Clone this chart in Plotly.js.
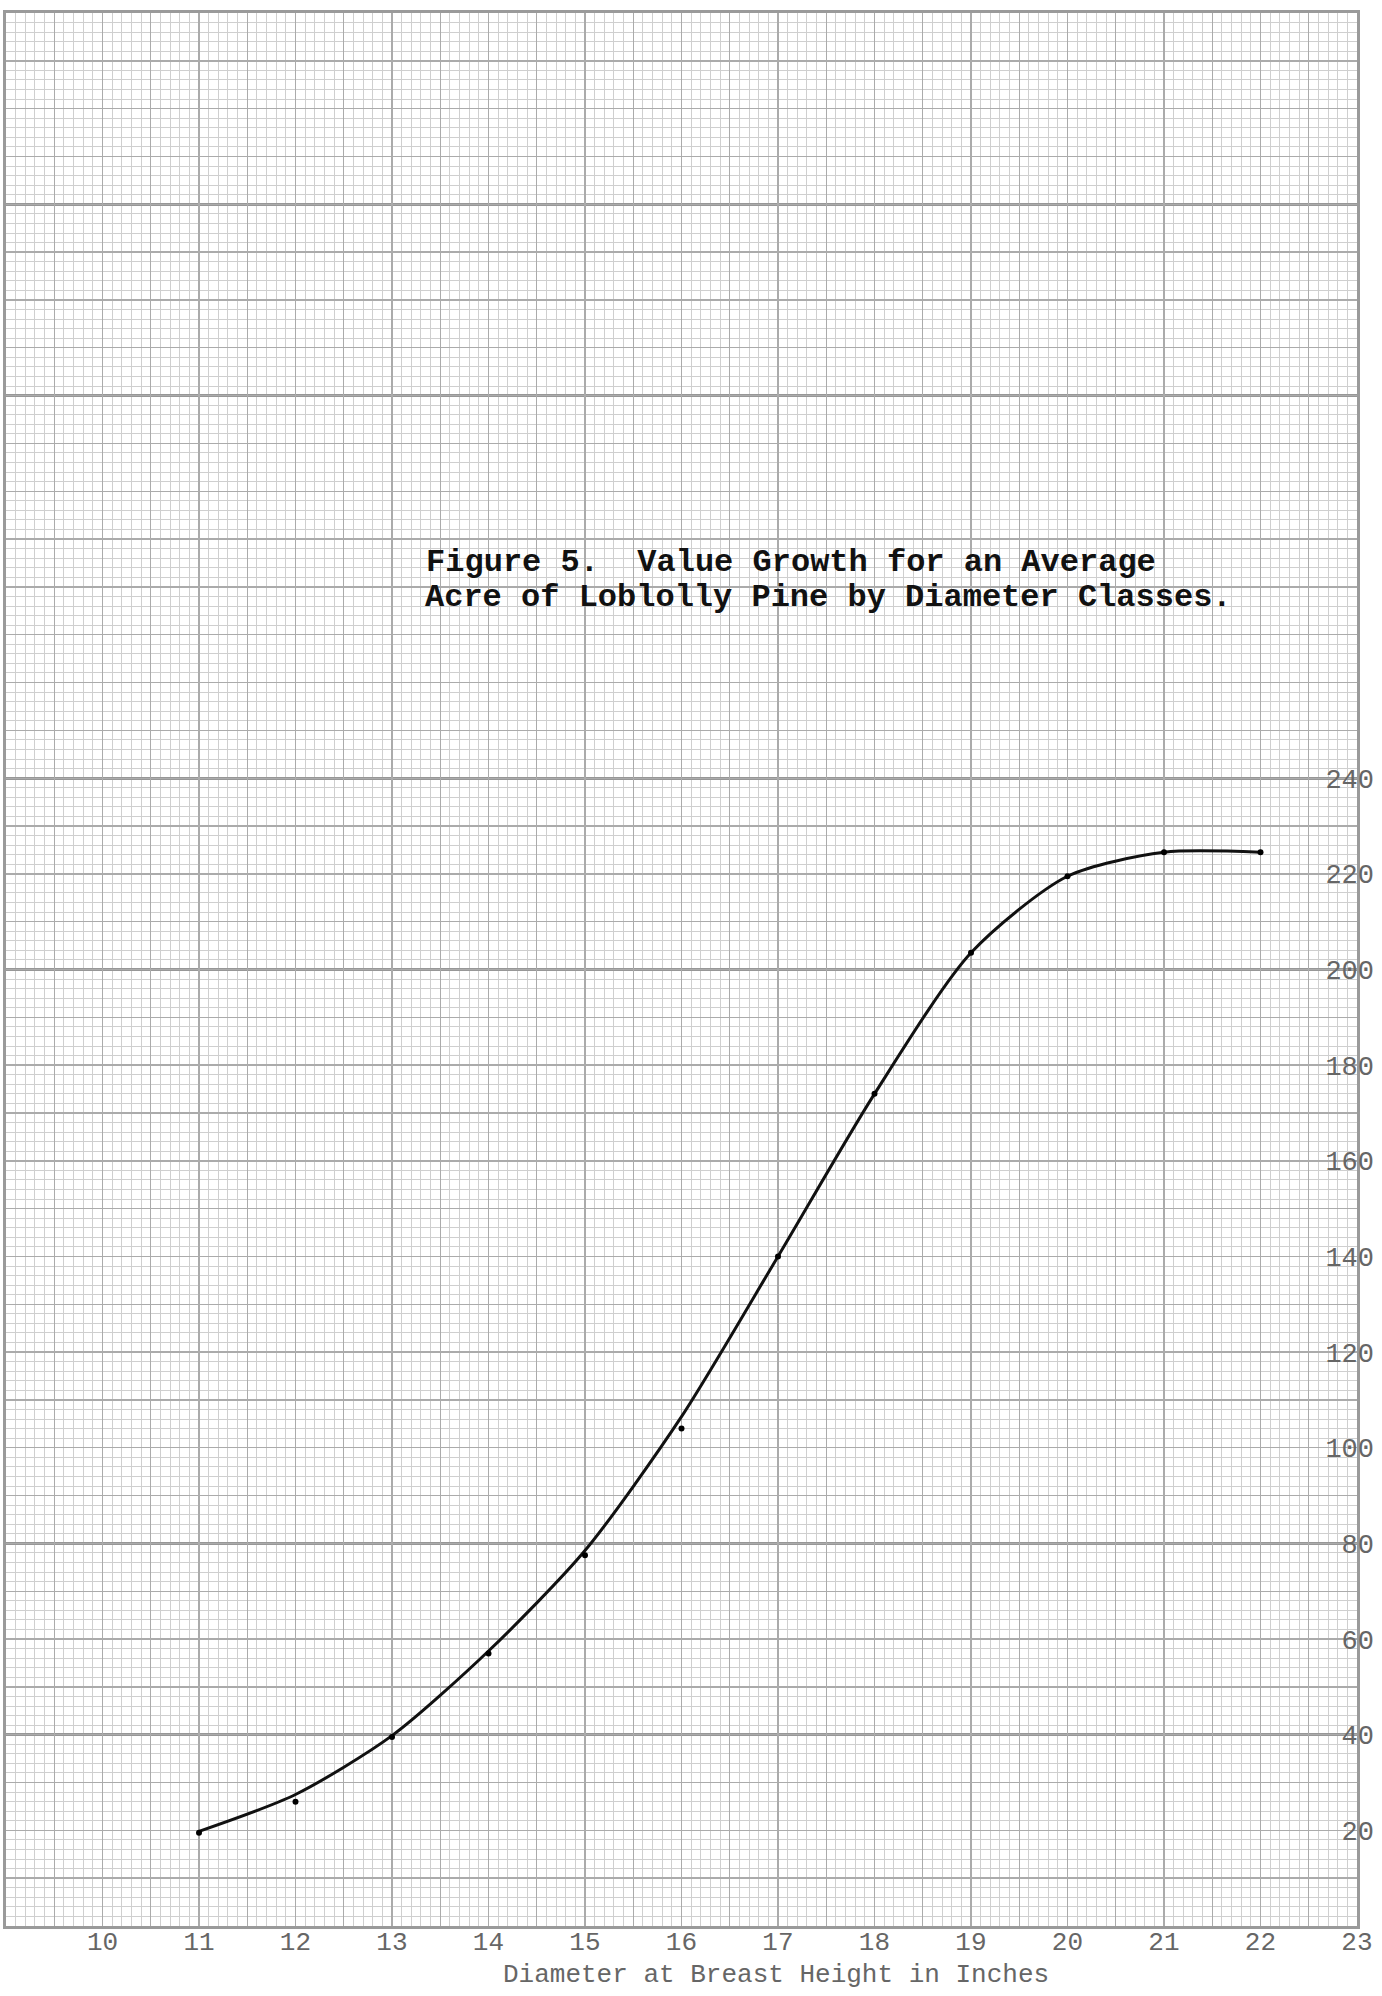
<!DOCTYPE html>
<html>
<head>
<meta charset="utf-8">
<script src="https://cdn.plot.ly/plotly-3.0.1.min.js"></script>
<style>
html, body { margin: 0; padding: 0; background: #ffffff; }
#chart { width: 1382px; height: 1996px; }
</style>
</head>
<body>
<div id="chart"></div>
<script>
// ---- data ----
const diameterClasses = [11, 12, 13, 14, 15, 16, 17, 18, 19, 20, 21, 22];
const plottedValues   = [19.5, 26, 39.5, 57, 77.5, 104, 140, 174, 203.5, 219.5, 224.5, 224.5];
const curveValues     = [19.8, 27.5, 39.8, 57.5, 78.5, 106.5, 140, 174, 203.5, 219.5, 224.5, 224.5];

const xTickValues = [10, 11, 12, 13, 14, 15, 16, 17, 18, 19, 20, 21, 22, 23];
const xTickLabels = ["10", "11", "12", "13", "14", "15", "16", "17", "18", "19", "20", "21", "22", "23"];
const yTickValues = [20, 40, 60, 80, 100, 120, 140, 160, 180, 200, 220, 240];
const yTickLabels = ["20", "40", "60", "80", "100", "120", "140", "160", "180", "200", "220", "240"];

const titleLine1 = "Figure 5.\u00a0 Value Growth for an Average";
const titleLine2 = "Acre of Loblolly Pine by Diameter Classes.";
const xAxisTitle = "Diameter at Breast Height in Inches";

const xRange = [9, 23];
const yRange = [0, 400];

// ---- styles ----
const FONT = "Liberation Mono, Courier New, monospace";
const minorGrid = "#cfcfcf";
const mediumGrid = "#ababab";
const boldGrid = "#979797";
const labelColor = "#666666";

const traces = [
  {
    x: diameterClasses, y: curveValues, type: "scatter", mode: "lines",
    line: { shape: "spline", smoothing: 0.75, color: "#111111", width: 3 },
    hoverinfo: "skip", showlegend: false, xaxis: "x", yaxis: "y"
  },
  {
    x: diameterClasses, y: plottedValues, type: "scatter", mode: "markers",
    marker: { color: "#000000", size: 6 },
    showlegend: false, xaxis: "x", yaxis: "y"
  },
  { x: [], y: [], type: "scatter", mode: "markers", showlegend: false, hoverinfo: "skip", xaxis: "x2", yaxis: "y2" },
  { x: [], y: [], type: "scatter", mode: "markers", showlegend: false, hoverinfo: "skip", xaxis: "x3", yaxis: "y3" }
];

const layout = {
  width: 1382, height: 1996,
  margin: { l: 6, r: 25, t: 13, b: 70 },
  paper_bgcolor: "#ffffff",
  plot_bgcolor: "#ffffff",
  showlegend: false,
  font: { family: FONT, color: labelColor },
  title: {
    text: titleLine1,
    xref: "container", yref: "container",
    x: 0.3083, y: 0.7194, xanchor: "left", yanchor: "middle",
    font: { family: FONT, size: 32, color: "#111111", weight: "bold" }
  },
  // bold grid (every 2 in., every 40 units) + fine grid, and the sheet border
  xaxis: {
    range: xRange, tickmode: "linear", tick0: 9, dtick: 2,
    showgrid: true, gridcolor: boldGrid, gridwidth: 2.6,
    minor: { tickmode: "linear", tick0: 9, dtick: 0.1, showgrid: true, gridcolor: minorGrid, gridwidth: 1 },
    showticklabels: false, ticks: "", zeroline: false,
    showline: true, mirror: true, linecolor: "#9a9a9a", linewidth: 3,
    fixedrange: true
  },
  yaxis: {
    range: yRange, tickmode: "linear", tick0: 0, dtick: 40,
    showgrid: true, gridcolor: boldGrid, gridwidth: 2.6,
    minor: { tickmode: "linear", tick0: 0, dtick: 2, showgrid: true, gridcolor: minorGrid, gridwidth: 1 },
    showticklabels: false, ticks: "", zeroline: false,
    showline: true, mirror: true, linecolor: "#9a9a9a", linewidth: 3,
    fixedrange: true
  },
  // medium grid (every half inch, every 10 units)
  xaxis2: {
    overlaying: "x", anchor: "y", range: xRange, tickmode: "linear", tick0: 9, dtick: 0.5,
    showgrid: true, gridcolor: mediumGrid, gridwidth: 1.4,
    showticklabels: false, ticks: "", zeroline: false, showline: false
  },
  yaxis2: {
    overlaying: "y", anchor: "x", range: yRange, tickmode: "linear", tick0: 0, dtick: 10,
    showgrid: true, gridcolor: mediumGrid, gridwidth: 1.4,
    showticklabels: false, ticks: "", zeroline: false, showline: false
  },
  // tick labels
  xaxis3: {
    overlaying: "x", anchor: "y", side: "bottom", range: [xRange[0], xRange[1] + 0.001],
    tickmode: "array", tickvals: xTickValues, ticktext: xTickLabels,
    ticklabelstandoff: -3, ticklabeloverflow: "allow",
    showgrid: false, zeroline: false, showline: false, ticks: "",
    tickfont: { family: FONT, size: 26, color: labelColor }
  },
  yaxis3: {
    overlaying: "y", anchor: "x", side: "right", range: yRange,
    tickmode: "array", tickvals: yTickValues, ticktext: yTickLabels,
    ticklabelposition: "inside", ticklabelstandoff: -20, ticklen: 0,
    ticklabeloverflow: "allow",
    showgrid: false, zeroline: false, showline: false, ticks: "",
    tickfont: { family: FONT, size: 27, color: labelColor }
  },
  annotations: [
    {
      text: titleLine2, xref: "paper", yref: "paper",
      x: 0.3090, y: 0.6945, xanchor: "left", yanchor: "middle",
      showarrow: false, font: { family: FONT, size: 32, color: "#111111", weight: "bold" }
    },
    {
      text: xAxisTitle, xref: "paper", yref: "paper",
      x: 0.570, y: -0.0258, xanchor: "center", yanchor: "middle",
      showarrow: false, font: { family: FONT, size: 26, color: labelColor }
    }
  ]
};

Plotly.newPlot("chart", traces, layout, { displayModeBar: false, staticPlot: true });
</script>
</body>
</html>
